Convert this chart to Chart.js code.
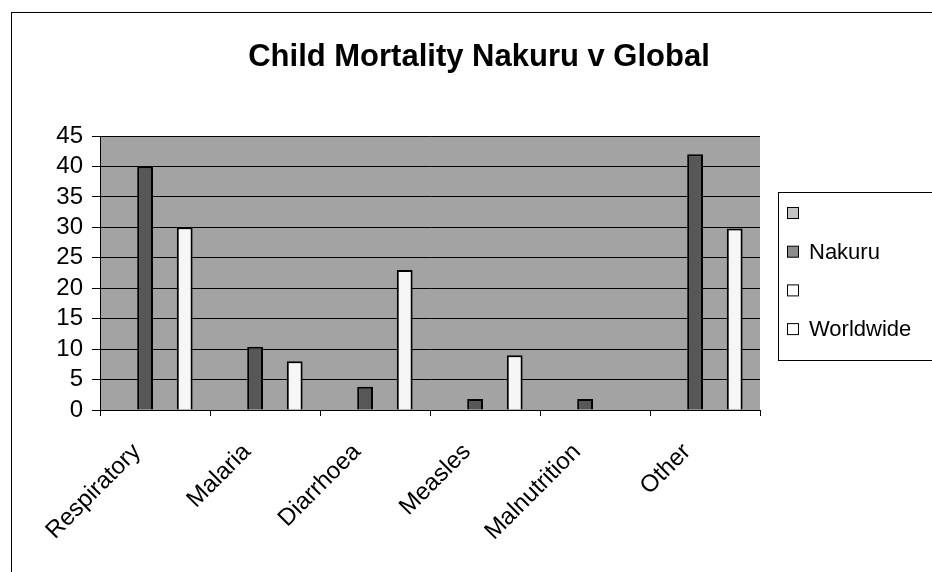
<!DOCTYPE html>
<html>
<head>
<meta charset="utf-8">
<script src="https://cdn.jsdelivr.net/npm/chart.js@4.4.1/dist/chart.umd.min.js"></script>
<style>
  html, body { margin: 0; padding: 0; background: #fff; }
</style>
</head>
<body>
<canvas id="mortality" width="932" height="572"></canvas>
<script>
const categories = ['Respiratory', 'Malaria', 'Diarrhoea', 'Measles', 'Malnutrition', 'Other'];
const blankA = [null, null, null, null, null, null];
const nakuru = [40, 10.4, 3.8, 1.8, 1.8, 42];
const blankB = [null, null, null, null, null, null];
const worldwide = [30, 8, 23, 9, 0, 29.8];
const chartTitle = 'Child Mortality Nakuru v Global';

const FONT = "'Liberation Sans', Arial, sans-serif";

// gray plot area, outer frame and the title
const background = {
  id: 'background',
  beforeDraw(chart) {
    const { ctx, chartArea: a } = chart;
    ctx.save();
    ctx.fillStyle = '#a3a3a3';
    ctx.fillRect(a.left, a.top, a.right - a.left, a.bottom - a.top);
    ctx.strokeStyle = '#000';
    ctx.lineWidth = 1;
    ctx.strokeRect(11.5, 12.5, 930, 600);
    ctx.fillStyle = '#000';
    ctx.font = 'bold 31px ' + FONT;
    ctx.textAlign = 'center';
    ctx.textBaseline = 'middle';
    ctx.fillText(chartTitle, 479, 57);
    ctx.restore();
  }
};

// boxed legend on the right, excel style
const boxLegend = {
  id: 'boxLegend',
  afterDraw(chart) {
    const ctx = chart.ctx;
    ctx.save();
    ctx.strokeStyle = '#000';
    ctx.lineWidth = 1;
    ctx.strokeRect(778.5, 192.5, 200, 168);
    ctx.font = '22px ' + FONT;
    ctx.textBaseline = 'middle';
    chart.data.datasets.forEach((ds, i) => {
      const y = 213 + i * 38.7;
      ctx.fillStyle = ds.legendColor;
      ctx.fillRect(787.5, y - 5.5, 11, 11);
      ctx.strokeRect(787.5, y - 5.5, 11, 11);
      ctx.fillStyle = '#000';
      ctx.fillText(ds.label, 809, y + 1);
    });
    ctx.restore();
  }
};

new Chart(document.getElementById('mortality'), {
  type: 'bar',
  data: {
    labels: categories,
    datasets: [
      { label: '', data: blankA, backgroundColor: '#bdbdbd', legendColor: '#c4c4c4' },
      { label: 'Nakuru', data: nakuru, backgroundColor: '#575757', legendColor: '#8c8c8c',
        borderColor: '#000', borderWidth: 2 },
      { label: '', data: blankB, backgroundColor: '#ffffff', legendColor: '#ffffff' },
      { label: 'Worldwide', data: worldwide, backgroundColor: '#f6f6f6', legendColor: '#ffffff',
        borderColor: '#000', borderWidth: 2 }
    ]
  },
  options: {
    responsive: false,
    animation: false,
    categoryPercentage: 0.72,
    barPercentage: 0.8,
    layout: { padding: { left: 0, right: 172, top: 136, bottom: 0 } },
    plugins: {
      legend: { display: false },
      tooltip: { enabled: false },
      title: { display: false }
    },
    scales: {
      x: {
        afterFit(s) { s.height = 162; },
        grid: { display: true, drawOnChartArea: false, color: '#000', tickLength: 6, offset: true },
        border: { color: '#000' },
        ticks: {
          color: '#000',
          font: { family: FONT, size: 24 },
          minRotation: 45,
          maxRotation: 45,
          labelOffset: -18,
          padding: 22
        }
      },
      y: {
        min: 0,
        max: 45,
        afterFit(s) { s.width = 100; },
        grid: { color: '#000', tickLength: 8 },
        border: { color: '#000' },
        ticks: {
          stepSize: 5,
          autoSkip: false,
          color: '#000',
          font: { family: FONT, size: 24 },
          padding: 9
        }
      }
    }
  },
  plugins: [background, boxLegend]
});
</script>
</body>
</html>
